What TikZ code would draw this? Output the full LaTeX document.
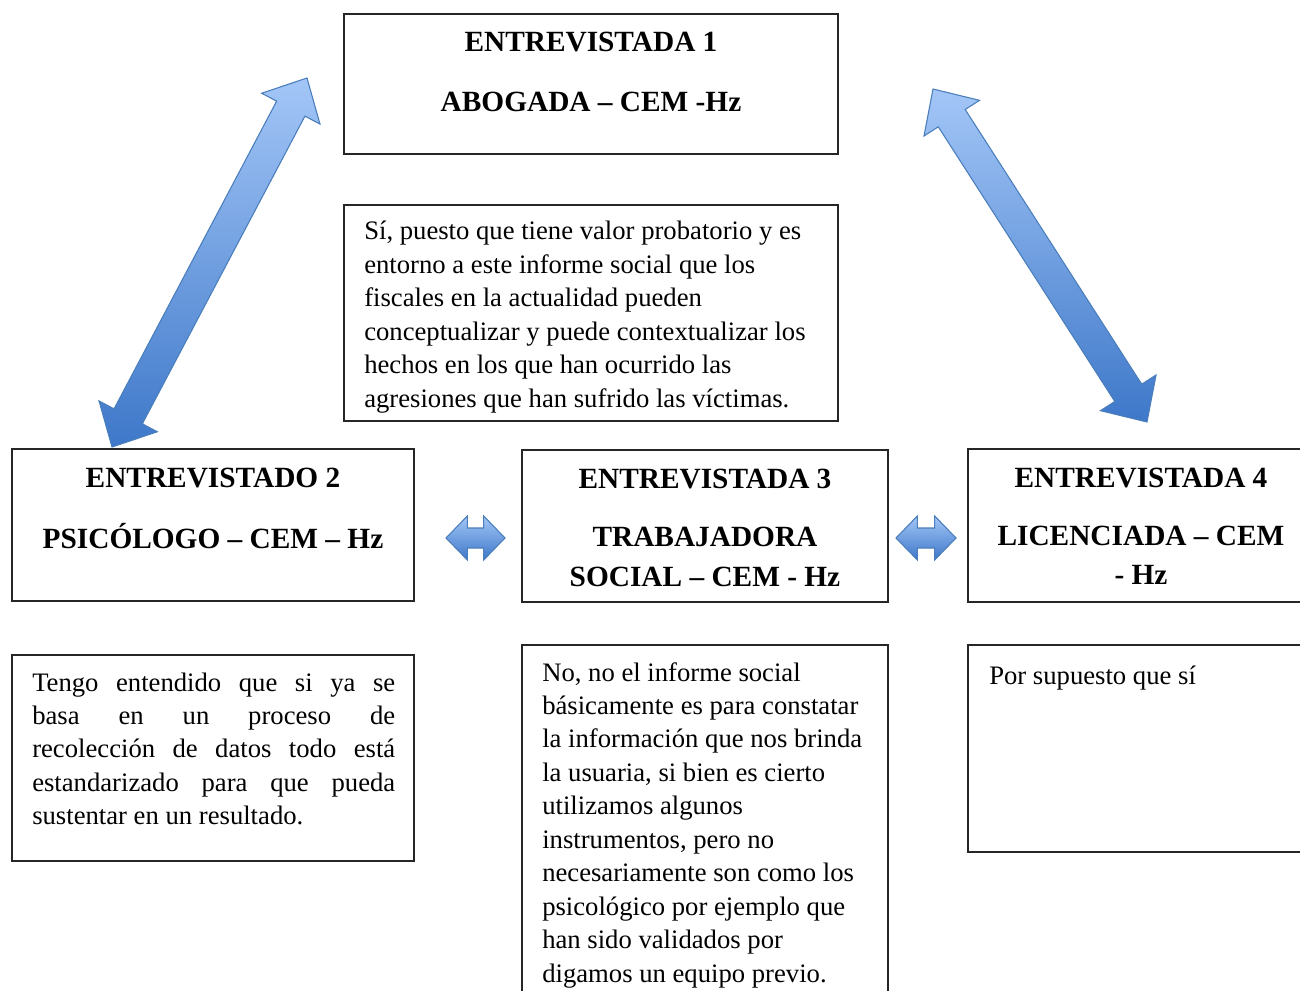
\documentclass[tikz,border=0pt]{standalone}
\usepackage{fontspec}
\setmainfont{Liberation Serif}
\usetikzlibrary{calc}
\definecolor{arrtop}{HTML}{A3C6F7}
\definecolor{arrbot}{HTML}{3E78C9}
\definecolor{arredge}{HTML}{4A7EBB}
\tikzset{
  boxrect/.style={draw=black!85, line width=0.9pt, rectangle, inner sep=0pt},
  titletext/.style={font=\fontsize{22}{26}\selectfont\bfseries, anchor=base, inner sep=0pt},
  bodytext/.style={font=\fontsize{20}{25.1}\selectfont, anchor=base west, inner sep=0pt, align=left},
  blockarrow/.style={draw=arredge, line width=0.8pt, top color=arrtop, bottom color=arrbot, line join=miter},
}
\newcommand{\natsp}{\spaceskip=0pt\xspaceskip=0pt\relax}
% #1 tip A, #2 tip B, #3 head length, #4 head half width, #5 shaft half width
\newcommand{\dblblockarrow}[5]{%
  \path[blockarrow] (#1)
    -- ($($(#1)!#3!(#2)$)!#4!90:(#2)$)
    -- ($($(#1)!#3!(#2)$)!#5!90:(#2)$)
    -- ($($(#2)!#3!(#1)$)!#5!-90:(#1)$)
    -- ($($(#2)!#3!(#1)$)!#4!-90:(#1)$)
    -- (#2)
    -- ($($(#2)!#3!(#1)$)!#4!90:(#1)$)
    -- ($($(#2)!#3!(#1)$)!#5!90:(#1)$)
    -- ($($(#1)!#3!(#2)$)!#5!-90:(#2)$)
    -- ($($(#1)!#3!(#2)$)!#4!-90:(#2)$)
    -- cycle;}
\begin{document}
\begin{tikzpicture}[x=0.75pt, y=-0.75pt]
\useasboundingbox (0,0) rectangle (1300,991);
% boxes
\node[boxrect, minimum width=494*0.75pt, minimum height=140*0.75pt] (e1) at (591,84) {};
\node[boxrect, minimum width=494*0.75pt, minimum height=216*0.75pt] (t1) at (591,313) {};
\node[boxrect, minimum width=402*0.75pt, minimum height=152*0.75pt] (e2) at (213,525) {};
\node[boxrect, minimum width=366*0.75pt, minimum height=152*0.75pt] (e3) at (705,526) {};
\node[boxrect, minimum width=346*0.75pt, minimum height=153*0.75pt] (e4) at (1141,525.5) {};
\node[boxrect, minimum width=402*0.75pt, minimum height=206*0.75pt] (t2) at (213,758) {};
\node[boxrect, minimum width=366*0.75pt, minimum height=365*0.75pt] (t3) at (705,827.5) {};
\node[boxrect, minimum width=346*0.75pt, minimum height=207*0.75pt] (t4) at (1141,748.5) {};
% titles
\node[titletext] (e1a) at (591,52) {ENTREVISTADA 1};
\node[titletext] (e1b) at (591,112) {ABOGADA – CEM -Hz};
\node[titletext] (e2a) at (213,487) {ENTREVISTADO 2};
\node[titletext] (e2b) at (213,548) {PSICÓLOGO – CEM – Hz};
\node[titletext] (e3a) at (705,488) {ENTREVISTADA 3};
\node[titletext] (e3b) at (705,546) {TRABAJADORA};
\node[titletext] (e3c) at (705,586) {SOCIAL – CEM - Hz};
\node[titletext] (e4a) at (1141,487) {ENTREVISTADA 4};
\node[titletext] (e4b) at (1141,545) {LICENCIADA – CEM};
\node[titletext] (e4c) at (1141,584) {- Hz};
% body texts
\node[bodytext, text width=470*0.75pt] (t1x) at (364,240) {\natsp Sí, puesto que tiene valor probatorio y es\\entorno a este informe social que los\\fiscales en la actualidad pueden\\conceptualizar y puede contextualizar los\\hechos en los que han ocurrido las\\agresiones que han sufrido las víctimas.};
\node[bodytext, text width=363*0.75pt, align=justify] (t2x) at (32,691) {Tengo entendido que si ya se\linebreak basa en un proceso de\linebreak recolección de datos todo está\linebreak estandarizado para que pueda\linebreak sustentar en un resultado.};
\node[bodytext, text width=344*0.75pt] (t3x) at (542,681) {\natsp No, no el informe social\\básicamente es para constatar\\la información que nos brinda\\la usuaria, si bien es cierto\\utilizamos algunos\\instrumentos, pero no\\necesariamente son como los\\psicológico por ejemplo que\\han sido validados por\\digamos un equipo previo.};
\node[bodytext, text width=300*0.75pt] (t4x) at (989,684) {\natsp Por supuesto que sí};
% arrows
\coordinate (la) at (112,447);
\coordinate (lb) at (307,78);
\coordinate (ra) at (933,89);
\coordinate (rb) at (1147,422);
\coordinate (ha) at (446,538);
\coordinate (hb) at (505,538);
\coordinate (ka) at (896,538);
\coordinate (kb) at (956,538);
\dblblockarrow{la}{lb}{26pt}{24.75pt}{12pt}
\dblblockarrow{ra}{rb}{26pt}{24.75pt}{12pt}
\dblblockarrow{ha}{hb}{16pt}{16.5pt}{7.5pt}
\dblblockarrow{ka}{kb}{16pt}{16.5pt}{7.5pt}
\end{tikzpicture}
\end{document}
